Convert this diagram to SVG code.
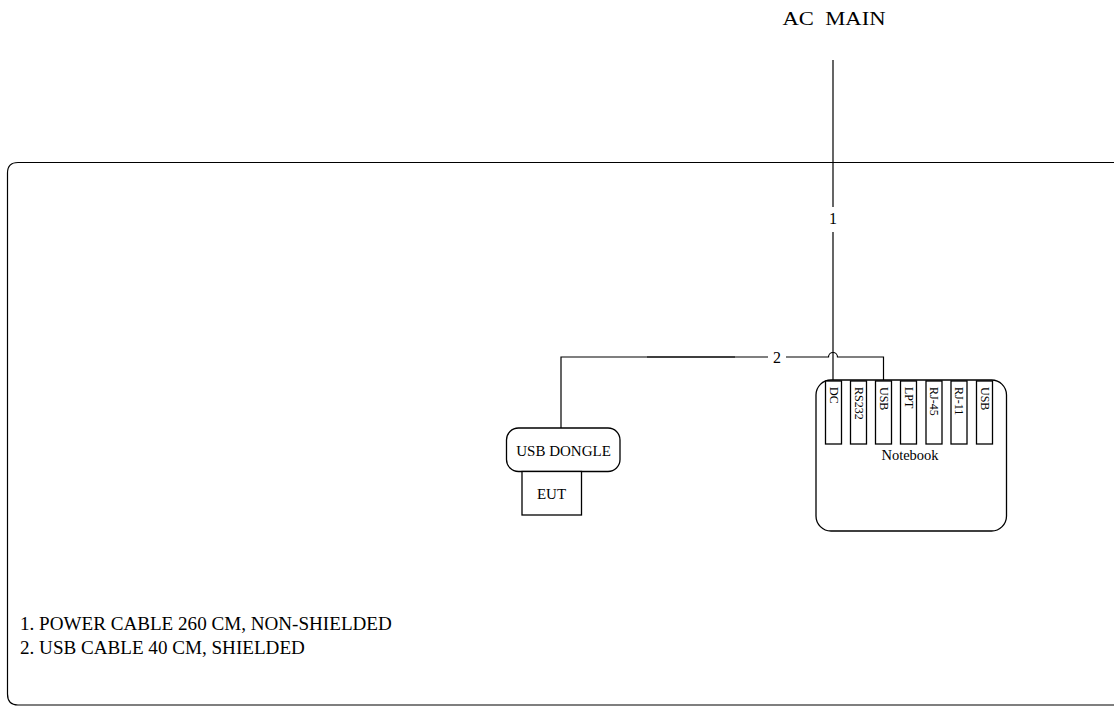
<svg xmlns="http://www.w3.org/2000/svg" width="1114" height="708" viewBox="0 0 1114 708">
<style>
.ln{fill:none;stroke:#000;stroke-width:1.2}
.bx{fill:#fff;stroke:#000;stroke-width:1.3}
.t{font-family:"Liberation Serif","Times New Roman",serif;fill:#000}
.p{font-family:"Liberation Serif","Times New Roman",serif;font-size:12px;fill:#000;dominant-baseline:central}
</style>
<rect width="1114" height="708" fill="#fff"/>
<g id="frame">
<path class="ln" d="M1120 162.5 H18 Q7.5 162.5 7.5 173 V694 Q7.5 705 18 705 H1120" stroke-width="1.4"/>
</g>
<text class="t" x="834" y="24.5" font-size="19" text-anchor="middle" textLength="103" lengthAdjust="spacingAndGlyphs">AC&#160;&#160;MAIN</text>
<g id="connectors">
<path class="ln" d="M833 60 V207 M833 232 V381"/>
<text class="t" x="833" y="224" font-size="16" text-anchor="middle">1</text>
<path class="ln" d="M561 428 V357 H768 M786 357 H828.5 A4.5 4.5 0 0 1 837.5 357 H883.5 V381"/>
<path class="ln" d="M647 357 H735" stroke-width="1.8"/>
<text class="t" x="777" y="363" font-size="16" text-anchor="middle">2</text>
</g>
<g id="notebook">
<rect class="bx" x="816" y="380" width="190.5" height="151" rx="15"/>
<rect class="bx" x="825.5" y="381" width="16" height="63"/>
<rect class="bx" x="850.5" y="381" width="16" height="63"/>
<rect class="bx" x="875.5" y="381" width="16" height="63"/>
<rect class="bx" x="900.5" y="381" width="16" height="63"/>
<rect class="bx" x="926" y="381" width="16" height="63"/>
<rect class="bx" x="951" y="381" width="16" height="63"/>
<rect class="bx" x="976.5" y="381" width="16" height="63"/>
<text class="p" transform="translate(833.5,387) rotate(90)">DC</text>
<text class="p" transform="translate(858.5,387) rotate(90)">RS232</text>
<text class="p" transform="translate(883.5,387) rotate(90)">USB</text>
<text class="p" transform="translate(908.5,387) rotate(90)">LPT</text>
<text class="p" transform="translate(934,387) rotate(90)">RJ-45</text>
<text class="p" transform="translate(959,387) rotate(90)">RJ-11</text>
<text class="p" transform="translate(984.5,387) rotate(90)">USB</text>
<text class="t" x="910" y="460" font-size="14.5" text-anchor="middle">Notebook</text>
</g>
<g id="dongle">
<rect class="bx" x="506.5" y="428" width="113.5" height="43.5" rx="12"/>
<text class="t" x="563.5" y="455.5" font-size="15" text-anchor="middle">USB DONGLE</text>
</g>
<g id="eut">
<rect class="bx" x="522" y="471.5" width="59.5" height="43.5"/>
<text class="t" x="551.5" y="499" font-size="15" text-anchor="middle">EUT</text>
</g>
<g id="notes">
<text class="t" x="20" y="630" font-size="19.1">1. POWER CABLE 260 CM, NON-SHIELDED</text>
<text class="t" x="20" y="654" font-size="19.1">2. USB CABLE 40 CM, SHIELDED</text>
</g>
</svg>
